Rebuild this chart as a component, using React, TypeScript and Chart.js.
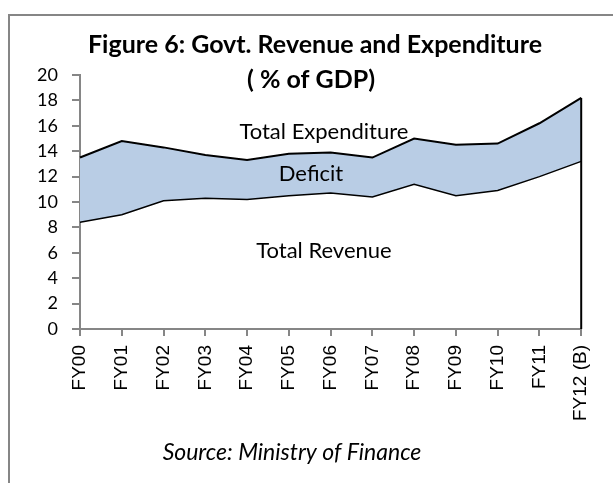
import React, { useEffect, useRef } from "react";
import { Chart, registerables } from "chart.js";

Chart.register(...registerables);

const categories = ["FY00", "FY01", "FY02", "FY03", "FY04", "FY05", "FY06", "FY07", "FY08", "FY09", "FY10", "FY11", "FY12 (B)"];
const totalRevenue = [8.4, 9.0, 10.1, 10.3, 10.2, 10.5, 10.7, 10.4, 11.4, 10.5, 10.9, 12.0, 13.2];
const totalExpenditure = [13.5, 14.8, 14.3, 13.7, 13.3, 13.8, 13.9, 13.5, 15.0, 14.5, 14.6, 16.2, 18.2];
const yMin = 0;
const yMax = 20;
const yStep = 2;
const titleLines = ["Figure 6: Govt. Revenue and Expenditure", "( % of GDP)"];
const sourceNote = "Source: Ministry of Finance";
const regionLabels = ["Total Expenditure", "Deficit", "Total Revenue"];
// anchor of each region label: [category index, value]
const regionLabelAnchors = [
  [5.84, 15.0],
  [5.53, 11.68],
  [5.84, 5.57],
];

const W = 613;
const H = 483;
const AXIS_GRAY = "#868686";
const FILL_BLUE = "#b9cde5";

const decorPlugin = {
  id: "decor",
  afterDatasetsDraw(chart: any) {
    const { ctx } = chart;
    const x = chart.scales.x;
    const y = chart.scales.y;
    const last = categories.length - 1;
    ctx.save();
    ctx.strokeStyle = "#000";
    ctx.lineWidth = 2;
    ctx.beginPath();
    const px = x.getPixelForValue(last);
    ctx.moveTo(px, y.getPixelForValue(0));
    ctx.lineTo(px, y.getPixelForValue(totalExpenditure[last]));
    ctx.stroke();

    ctx.fillStyle = "#000";
    ctx.font = "22px Lato";
    ctx.textAlign = "center";
    ctx.textBaseline = "alphabetic";
    regionLabels.forEach((t, i) => {
      ctx.fillText(t, x.getPixelForValue(regionLabelAnchors[i][0]), y.getPixelForValue(regionLabelAnchors[i][1]));
    });
    ctx.restore();
  },
  afterDraw(chart: any) {
    const { ctx } = chart;
    ctx.save();
    ctx.strokeStyle = AXIS_GRAY;
    ctx.lineWidth = 2;
    ctx.strokeRect(9, 15, 700, 600);

    ctx.fillStyle = "#000";
    ctx.textAlign = "center";
    ctx.textBaseline = "alphabetic";
    ctx.font = "bold 25px Lato";
    ctx.fillText(titleLines[0], 315, 53);
    ctx.fillText(titleLines[1], 311, 88);

    ctx.font = "italic 23px Lato";
    ctx.fillText(sourceNote, 292, 460);
    ctx.restore();
  },
};

export default function App() {
  const canvasRef = useRef<HTMLCanvasElement | null>(null);

  useEffect(() => {
    let chart: Chart | null = null;
    let cancelled = false;
    const fontsReady = (document as any).fonts
      ? Promise.all([
          (document as any).fonts.load("22px Lato"),
          (document as any).fonts.load("bold 25px Lato"),
          (document as any).fonts.load("italic 23px Lato"),
          (document as any).fonts.load("19px 'Liberation Sans'"),
        ]).catch(() => null)
      : Promise.resolve(null);

    fontsReady.then(() => {
      if (cancelled || !canvasRef.current) return;
      chart = new Chart(canvasRef.current, {
        type: "line",
        data: {
          labels: categories,
          datasets: [
            {
              label: "Total Revenue",
              data: totalRevenue,
              borderColor: "#000",
              borderWidth: 1.5,
              pointRadius: 0,
              fill: false,
              tension: 0,
            },
            {
              label: "Total Expenditure",
              data: totalExpenditure,
              borderColor: "#000",
              borderWidth: 2,
              backgroundColor: FILL_BLUE,
              pointRadius: 0,
              fill: "-1",
              tension: 0,
            },
          ],
        },
        options: {
          responsive: false,
          animation: false,
          devicePixelRatio: 1,
          layout: { padding: { top: 75, left: 0, right: 31, bottom: 0 } },
          plugins: {
            legend: { display: false },
            title: { display: false },
            tooltip: { enabled: false },
          },
          scales: {
            x: {
              type: "category",
              offset: false,
              grid: { display: true, drawOnChartArea: false, drawTicks: true, tickLength: 7, color: AXIS_GRAY, lineWidth: 2 },
              border: { display: true, color: AXIS_GRAY, width: 2 },
              ticks: {
                autoSkip: false,
                minRotation: 90,
                maxRotation: 90,
                padding: 9,
                color: "#000",
                font: { family: "'Liberation Sans', Arial, sans-serif", size: 19 },
              },
              afterFit(scale: any) {
                scale.height = H - 329;
              },
            },
            y: {
              min: yMin,
              max: yMax,
              grid: { display: true, drawOnChartArea: false, drawTicks: true, tickLength: 8, color: AXIS_GRAY, lineWidth: 2 },
              border: { display: true, color: AXIS_GRAY, width: 2 },
              ticks: {
                stepSize: yStep,
                padding: 14,
                color: "#000",
                font: { family: "Lato, sans-serif", size: 18 },
              },
              afterFit(scale: any) {
                scale.width = 80;
              },
            },
          },
        },
        plugins: [decorPlugin],
      } as any);
    });

    return () => {
      cancelled = true;
      if (chart) chart.destroy();
    };
  }, []);

  return (
    <div style={{ position: "absolute", left: 0, top: 0, width: W, height: H, background: "#fff", overflow: "hidden" }}>
      <canvas ref={canvasRef} width={W} height={H} style={{ display: "block", width: W, height: H }} />
    </div>
  );
}
